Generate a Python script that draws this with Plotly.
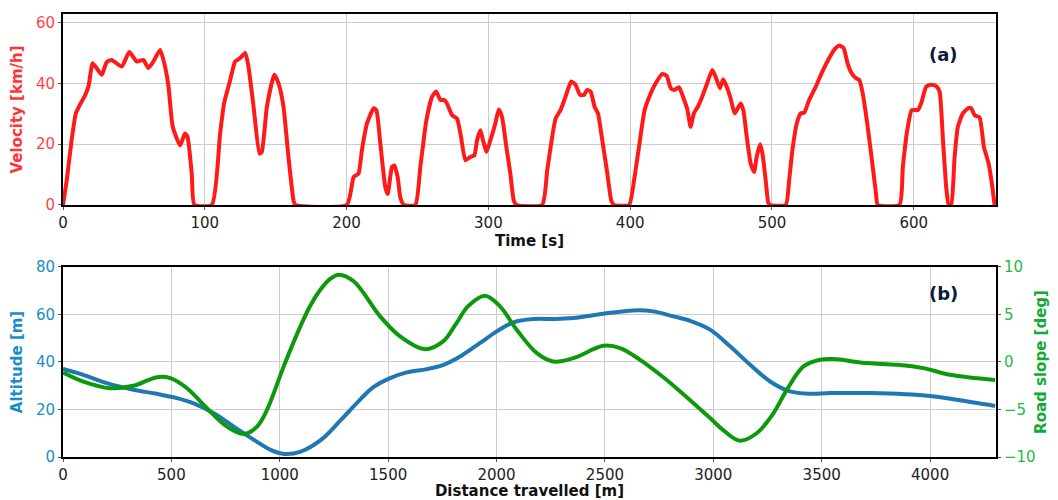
import plotly.graph_objects as go

# ---- Panel (a): velocity vs time ----
time_s = [0, 2.6, 6, 9, 12, 15.5, 18, 21, 27.3, 30.8, 34.4, 41.4, 46.8, 52, 56.7, 60.2, 63.8, 68.5,
          72, 74.4, 77.4, 82.6, 86, 87.8, 90.8, 92.7, 105, 110.8, 113.6, 117.9, 121.4, 125, 128.5,
          130.8, 134.4, 138.6, 140.2, 143.8, 149, 152, 155.5, 159, 162.6, 163.8, 200.2, 205, 208.4,
          210.8, 214.4, 219.1, 221, 223.8, 227.3, 229, 232, 233.7, 236, 237.9, 240.3, 248.5, 252,
          256.3, 260.3, 263.1, 266.2, 269, 270.8, 274.4, 277.9, 280.7, 283.8, 287.3, 290.1, 292,
          294.4, 296.2, 298.6, 301.4, 304.9, 307.3, 309.6, 312.7, 315.5, 317.9, 319.8, 337.9, 341.5,
          345, 347.4, 350.9, 354.4, 358.4, 361.5, 364.6, 367.4, 369.7, 372.1, 374.9, 377.3, 380.3,
          383.9, 386.7, 388.6, 399.2, 402.7, 406.2, 410.2, 414.5, 418, 422.7, 425.8, 428.6, 431,
          434.5, 438.1, 440.4, 442.6, 444.9, 447.7, 450.8, 454.3, 457.9, 460.2, 463.3, 465.6, 468.5,
          470.8, 473.7, 477.9, 479.8, 482.2, 485, 487.4, 489.2, 491.6, 493.3, 495.6, 497.3, 498.7,
          509.7, 512.1, 514.4, 517.5, 520.3, 522.7, 526.2, 530.9, 535.6, 540.4, 544.4, 547.4, 550.5,
          553.3, 556.2, 559.2, 561.6, 564, 567.5, 571.1, 573.4, 574.6, 589.9, 592.3, 595.4, 598.6,
          602.9, 605.2, 608.8, 612.3, 615.8, 618.2, 620.6, 622.9, 624.6, 626.4, 628.8, 631.1, 634.6,
          638.2, 640.5, 642.9, 646.4, 649.5, 652.8, 655.1, 657]
velocity_kmh = [0, 8, 21, 30, 33, 36, 39, 46.6, 42.8, 47, 47.7, 45.5, 50.3, 47.2, 47.7, 45, 47.2, 51,
                45.5, 39, 25.7, 19.6, 23.5, 22.4, 10.3, 0, 0, 23.5, 33.4, 41, 47.2, 48.3, 50,
                45.5, 32.3, 16.9, 17.4, 32.3, 42.8, 40, 32.3, 15.8, 1.4, 0, 0, 9.2, 10.3,
                18, 26.8, 31.8, 31.2, 20.2, 5.8, 3.6, 12.5, 13, 9.2, 2.5, 0, 0, 12.5,
                27.9, 35.6, 37.3, 34.5, 34.5, 33.4, 29.5, 28.4, 22.4, 14.7, 15.8, 16.3, 21.3,
                24.6, 21.3, 17.4, 21.3, 26.8, 31.4, 29, 19, 10.3, 1.4, 0, 0, 11.4,
                22.4, 28.4, 31.2, 35.6, 40.6, 39.5, 36.2, 36.2, 37.8, 37.3, 32.3, 30.1, 21.3,
                10.3, 1.4, 0, 0, 8, 19, 31.2, 36.7, 40, 43.1, 42.4, 38.4, 37.8,
                38.7, 34.5, 31.2, 25.7, 30.1, 32.3, 35.6, 40, 44.4, 42.2, 38.4, 41.3, 38.4,
                35.1, 30.1, 33.4, 31.2, 22.4, 13.6, 10.8, 15.8, 20, 16.9, 8, 0.9, 0,
                0, 8, 18, 26.8, 30.1, 30.3, 34.5, 38.9, 43.9, 48.3, 51.3, 52.4, 51.6,
                46.6, 43.3, 41.7, 41.1, 36.7, 25.7, 12.5, 3.6, 0, 0, 12.5, 24.6, 31.2,
                31.2, 33.4, 38.9, 39.5, 39.1, 37.3, 21.3, 5.8, 0, 0, 15.8, 25.7, 30.1,
                31.8, 31.8, 29.5, 28.8, 19, 13.6, 7, 0]

# ---- Panel (b): altitude and road slope vs distance ----
alt_dist_m = [0, 94, 202, 325, 433, 526, 603, 696, 788, 881, 958, 1020, 1097, 1190, 1282, 1375, 1432,
              1509, 1586, 1678, 1755, 1832, 1924, 2001, 2078, 2170, 2262, 2354, 2493, 2631, 2723,
              2816, 2893, 2985, 3077, 3170, 3262, 3354, 3446, 3539, 3723, 4000, 4123, 4300]
altitude_m = [37.1, 34.6, 31.1, 28.3, 26.6, 24.8, 22.6, 18.4, 12.8, 7.2, 3.0, 1.3, 2.3, 7.2, 15.6, 24.6, 29.4,
              33.2, 35.6, 37.0, 38.8, 42.3, 48.0, 52.9, 56.7, 58.1, 58.1, 58.5, 60.3, 61.7, 61.3,
              59.2, 57.3, 53.6, 46.6, 38.8, 31.8, 27.6, 26.6, 26.9, 26.9, 25.7, 24.1, 21.5]

slope_dist_m = [0, 94, 217, 325, 433, 495, 572, 664, 756, 834, 895, 941, 1018, 1095, 1140, 1187, 1230,
                1272, 1341, 1463, 1555, 1670, 1755, 1810, 1870, 1947, 2016, 2093, 2186, 2262, 2354,
                2493, 2570, 2662, 2755, 2847, 2985, 3047, 3123, 3200, 3277, 3339, 3416, 3492, 3554,
                3708, 3846, 3969, 4092, 4300]
road_slope_deg = [-1.11, -2.06, -2.76, -2.51, -1.6, -1.7, -2.76, -4.87, -6.8, -7.57, -6.8, -5.04, -0.47, 3.74,
                  5.9, 7.6, 8.7, 9.19, 8.49, 4.8, 2.69, 1.35, 2.2, 3.9, 5.9, 6.98, 5.85, 3.39, 0.93,
                  0.05, 0.4, 1.7, 1.46, 0.23, -1.35, -3.1, -5.9, -7.2, -8.28, -7.5, -5.4, -2.93, -0.47,
                  0.23, 0.3, -0.12, -0.3, -0.65, -1.35, -1.9]

RED = "#ff1a1a"
BLUE = "#1f77b4"
GREEN = "#0c9a0c"
FONT = "DejaVu Sans"

fig = go.Figure()
fig.add_trace(go.Scatter(x=time_s, y=velocity_kmh, mode="lines", xaxis="x", yaxis="y",
                         line=dict(color=RED, width=4, shape="spline", smoothing=0.5),
                         showlegend=False))
fig.add_trace(go.Scatter(x=alt_dist_m, y=altitude_m, mode="lines", xaxis="x2", yaxis="y2",
                         line=dict(color=BLUE, width=4, shape="spline", smoothing=1.0),
                         showlegend=False))
fig.add_trace(go.Scatter(x=slope_dist_m, y=road_slope_deg, mode="lines", xaxis="x2", yaxis="y3",
                         line=dict(color=GREEN, width=4, shape="spline", smoothing=1.0),
                         showlegend=False))

axis_common = dict(showline=True, linecolor="black", linewidth=2, mirror=True,
                   showgrid=True, gridcolor="#cccccc", gridwidth=1, zeroline=False,
                   ticks="outside", ticklen=3, tickcolor="#555555", automargin=False,
                   tickfont=dict(size=15))

fig.update_layout(
    width=1042, height=492,
    margin=dict(l=55, r=54, t=6, b=43),
    paper_bgcolor="white", plot_bgcolor="white",
    font=dict(family=FONT, size=15, color="#222222"),
    xaxis=dict(domain=[0, 1], anchor="y", range=[0, 658], dtick=100,
               title=dict(text="<b>Time [s]</b>", font=dict(size=15, color="#111111"), standoff=1),
               **axis_common),
    yaxis=dict(domain=[0.569, 1.0], anchor="x", range=[0, 62.8], dtick=20,
               title=dict(text="<b>Velocity [km/h]</b>", font=dict(size=15, color="#ff3333"), standoff=10),
               **axis_common),
    xaxis2=dict(domain=[0, 1], anchor="y2", range=[0, 4304], dtick=500,
                title=dict(text="<b>Distance travelled [m]</b>", font=dict(size=15, color="#111111"), standoff=1),
                **axis_common),
    yaxis2=dict(domain=[0, 0.429], anchor="x2", range=[0, 80], dtick=20,
                title=dict(text="<b>Altitude [m]</b>", font=dict(size=15, color="#1a8cc8"), standoff=10),
                **axis_common),
    yaxis3=dict(overlaying="y2", anchor="x2", side="right", range=[-10, 10], dtick=5,
                showgrid=False, zeroline=False, showline=True, linecolor="black", linewidth=2,
                ticks="outside", ticklen=3, tickcolor="#555555", automargin=False,
                tickfont=dict(size=15, color="#22bb44"),
                title=dict(text="<b>Road slope [deg]</b>", font=dict(size=15, color="#11aa33"), standoff=8)),
    annotations=[
        dict(text="<b>(a)</b>", xref="paper", yref="paper", x=0.961, y=0.937, showarrow=False,
             font=dict(size=18, color="#0b1a3a", family=FONT)),
        dict(text="<b>(b)</b>", xref="paper", yref="paper", x=0.961, y=0.368, showarrow=False,
             font=dict(size=18, color="#0b1a3a", family=FONT)),
    ],
)
fig.layout.yaxis.tickfont.color = "#ff4444"
fig.layout.yaxis2.tickfont.color = "#1a8cc8"

fig.write_html("out.html")
